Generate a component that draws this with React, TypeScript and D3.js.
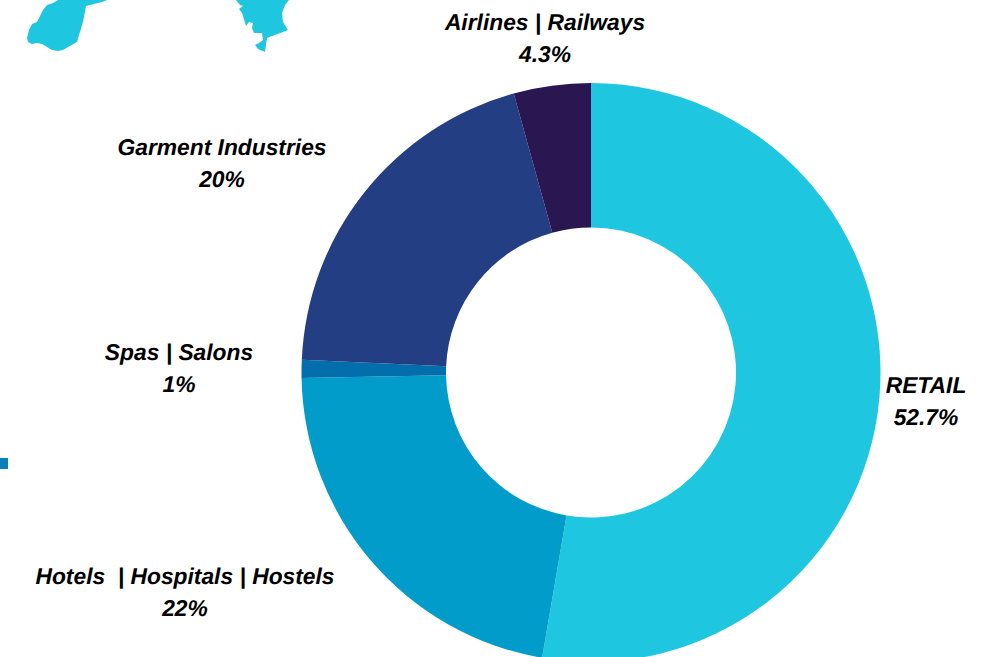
import * as d3 from "d3";

const categories = ["RETAIL", "Hotels  | Hospitals | Hostels", "Spas | Salons", "Garment Industries", "Airlines | Railways"];
const shares = [52.7, 22, 1, 20, 4.3];
const shareLabels = ["52.7%", "22%", "1%", "20%", "4.3%"];
const colors = ["#1fc6e0", "#029ccb", "#026eab", "#233e83", "#2a1650"];
// label centre of each slice
const labelX = [926, 185, 179, 222, 545];
const labelY = [393, 584, 360, 155, 30];

// cropped map pieces in the top corner of the slide
const mapLeft: [number, number][] = [
  [58, 0], [53, 3], [47, 5], [43, 10], [37, 22], [32, 24], [29, 30], [27, 38], [28, 42], [32, 44], [37, 43],
  [42, 44], [52, 50], [58, 51], [63, 50], [68, 47], [77, 42], [79, 35], [83, 22], [86, 6], [102, 2], [107, 0],
];
const mapRight: [number, number][] = [
  [236, 0], [240, 5], [243, 6], [239, 9], [242, 13], [246, 26], [249, 22], [253, 23], [252, 28], [254, 33],
  [262, 33], [263, 40], [259, 43], [255, 45], [258, 49], [265, 52], [267, 38], [288, 30], [283, 22], [282, 13],
  [285, 5], [289, 0],
];

const width = 985;
const height = 657;
const cx = 591;
const cy = 372.5;
const outerRadius = 289.5;
const innerRadius = 145;

export default function App() {
  const pie = d3.pie<number>().sort(null).value((d) => d);
  const arc = d3.arc<d3.PieArcDatum<number>>().innerRadius(innerRadius).outerRadius(outerRadius);
  const arcs = pie(shares);
  const mapLine = d3.line();

  return (
    <svg
      width={width}
      height={height}
      style={{ position: "absolute", left: 0, top: 0, background: "#fff" }}
      role="img"
      aria-label="Share of customers by sector donut chart"
    >
      <path d={mapLine(mapLeft) + "Z"} fill="#1fc6e0" />
      <path d={mapLine(mapRight) + "Z"} fill="#1fc6e0" />
      <rect x={0} y={458} width={8} height={11} fill="#0a7fbc" />

      <g transform={`translate(${cx}, ${cy})`}>
        {arcs.map((d, i) => (
          <path key={categories[i]} d={arc(d) ?? ""} fill={colors[i]} />
        ))}
      </g>

      {categories.map((name, i) => (
        <text
          key={name}
          x={labelX[i]}
          y={labelY[i]}
          textAnchor="middle"
          fontFamily="'Liberation Sans', Arial, sans-serif"
          fontSize={22.8}
          fontWeight={700}
          fontStyle="italic"
          fill="#000"
          textRendering="geometricPrecision"
          style={{ whiteSpace: "pre" }}
        >
          {name}
          <tspan x={labelX[i]} dy={31.5}>
            {shareLabels[i]}
          </tspan>
        </text>
      ))}
    </svg>
  );
}
